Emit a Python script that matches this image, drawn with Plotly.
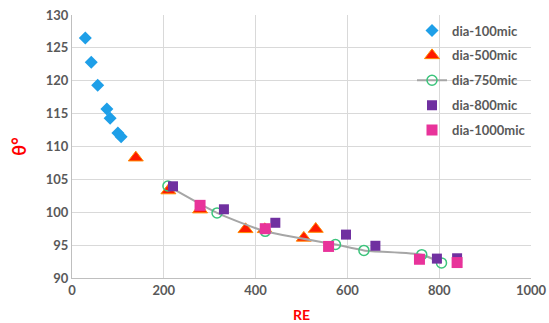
import plotly.graph_objects as go

x_100 = [29, 42, 56, 76, 83, 100, 107]
y_100 = [126.5, 122.8, 119.3, 115.7, 114.3, 112.05, 111.5]

x_500 = [139, 210, 279, 378, 420, 505, 531]
y_500 = [108.3, 103.3, 100.4, 97.4, 97.4, 96.1, 97.45]

x_750 = [209, 316, 421, 574, 636, 762, 805]
y_750 = [104.0, 99.9, 97.1, 95.1, 94.2, 93.55, 92.3]

x_800 = [220, 331, 443, 597, 661, 795, 839]
y_800 = [103.95, 100.45, 98.4, 96.6, 94.9, 92.95, 93.0]

x_1000 = [279, 421, 559, 757, 839]
y_1000 = [101.05, 97.5, 94.8, 92.85, 92.35]

FONT = "Lato"
TICK_COLOR = "#595959"

fig = go.Figure()
fig.add_trace(go.Scatter(x=x_100, y=y_100, mode="markers", name="dia-100mic", legendgroup="a",
                         marker=dict(symbol="diamond", size=10, color="#1e9fe8")))
fig.add_trace(go.Scatter(x=x_500, y=y_500, mode="markers", name="dia-500mic", legendgroup="b",
                         marker=dict(symbol="triangle-up", size=13, color="#ff1a00",
                                     line=dict(color="#ff8a00", width=1))))
fig.add_trace(go.Scatter(x=x_750, y=y_750, mode="lines+markers", name="dia-750mic", legendgroup="c",
                         line=dict(color="#a6a6a6", width=2, shape="spline", smoothing=0.6),
                         marker=dict(symbol="circle-open", size=10, color="#3cc47c",
                                     line=dict(width=1.5, color="#3cc47c"))))
fig.add_trace(go.Scatter(x=x_800, y=y_800, mode="markers", name="dia-800mic", legendgroup="d",
                         marker=dict(symbol="square", size=10, color="#7030a0")))
fig.add_trace(go.Scatter(x=x_1000, y=y_1000, mode="markers", name="dia-1000mic", legendgroup="e",
                         marker=dict(symbol="square", size=11, color="#e8339a")))

fig.update_layout(
    width=549, height=323,
    margin=dict(l=72, r=18, t=15, b=45, autoexpand=False),
    paper_bgcolor="white", plot_bgcolor="white",
    font=dict(family=FONT, size=12, color=TICK_COLOR),
    showlegend=True,
    legend=dict(x=1.0, y=0.998, xanchor="right", yanchor="top",
                bgcolor="rgba(0,0,0,0)", tracegroupgap=5,
                font=dict(family=FONT, size=13, color=TICK_COLOR, weight="bold")),
    xaxis=dict(range=[0, 1000], dtick=200, showgrid=True, gridcolor="#d9d9d9",
               showline=True, linecolor="#bfbfbf", zeroline=False, automargin=False,
               ticks="", tickfont=dict(family=FONT, size=13, color=TICK_COLOR, weight="bold"),
               title=dict(text="RE", font=dict(family=FONT, size=14, color="#ff0000", weight="bold"),
                          standoff=13)),
    yaxis=dict(range=[90, 130], dtick=5, showgrid=True, gridcolor="#d9d9d9",
               showline=True, linecolor="#bfbfbf", zeroline=False, automargin=False,
               ticks="", tickfont=dict(family=FONT, size=13, color=TICK_COLOR, weight="bold"),
               title=dict(text="θ°", font=dict(family=FONT, size=18, color="#ff0000", weight="bold"),
                          standoff=14)),
)

fig.write_html("out.html")
